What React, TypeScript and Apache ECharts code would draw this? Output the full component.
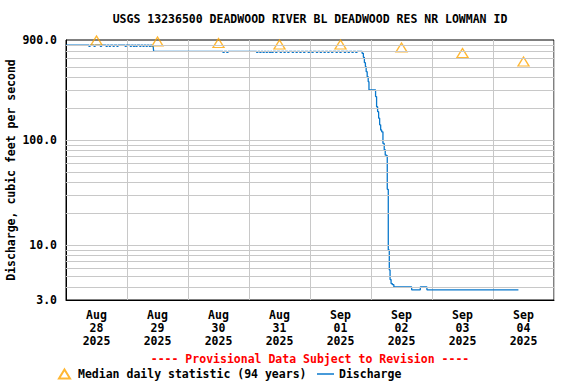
import React, { useEffect, useRef } from "react";
import * as echarts from "echarts";

const TITLE = "USGS 13236500 DEADWOOD RIVER BL DEADWOOD RES NR LOWMAN ID";
const Y_NAME = "Discharge, cubic feet per second";
const PROVISIONAL = "---- Provisional Data Subject to Revision ----";
const MEDIAN_NAME = "Median daily statistic (94 years)";
const DISCHARGE_NAME = "Discharge";

// x labels (one per day, centered on the day)
const dayLabels = [
  "Aug\n28\n2025",
  "Aug\n29\n2025",
  "Aug\n30\n2025",
  "Aug\n31\n2025",
  "Sep\n01\n2025",
  "Sep\n02\n2025",
  "Sep\n03\n2025",
  "Sep\n04\n2025",
];

// hours since 2025-08-28 00:00
const medianHours = [12, 36, 60, 84, 108, 132, 156, 180];
const medianValues = [890, 871, 843, 815, 815, 763, 677, 562];

// discharge: value holds from each hour until the next change
const dischargeHours = [
  0, 9, 9.5, 11, 11.5, 13.5, 14, 15.75, 16.25, 17, 17.5, 18.5, 19, 20, 20.5,
  23.25, 23.75, 25.25, 25.75, 26.5, 27, 27.5, 28, 29, 29.5, 30.25, 30.75,
  31.5, 32, 32.75, 33.25, 33.75, 34.25,
  34.5,
  61.75, 62.25, 63.25, 63.75, 75, 75.5, 76.25, 76.75, 77.5, 78, 78.75, 79.25,
  80, 80.5, 81, 81.5, 82.5, 83, 84.25, 84.75, 85.75, 86.25, 87.25, 87.75,
  89, 89.5, 90.5, 91, 92, 92.5, 93.5, 94, 95.25, 95.75, 96.75, 97.25,
  98.5, 99, 100, 100.5, 101.5, 102, 103, 103.5, 104.5, 105, 106.25, 106.75,
  107.75, 108.25, 109.5, 110, 111, 111.5, 112.5, 113, 114, 114.5,
  116.5, 117.0, 117.4, 117.8, 118.1, 118.5, 118.9, 119.2, 121.8, 122.2,
  122.6, 123.0, 123.4, 123.8, 124.2, 124.7, 125.2, 125.6, 126.0, 126.4,
  126.8, 127.2, 127.5, 127.9, 128.4, 129.0, 136.0, 139.4, 142.0, 178.0,
];
const dischargeValues = [
  805, 785, 805, 785, 805, 785, 805, 785, 805, 785, 805, 785, 805, 785, 805,
  785, 805, 785, 805, 785, 805, 785, 805, 785, 805, 785, 805,
  785, 805, 785, 805, 785, 805,
  700,
  685, 700, 685, 700, 685, 700, 685, 700, 685, 700, 685, 700,
  685, 700, 685, 700, 685, 700, 685, 700, 685, 700, 685, 700,
  685, 700, 685, 700, 685, 700, 685, 700, 685, 700, 685, 700,
  685, 700, 685, 700, 685, 700, 685, 700, 685, 700, 685, 700,
  685, 700, 685, 700, 685, 700, 685, 700, 685, 700,
  672, 615, 547, 501, 449, 402, 361, 301, 260, 208,
  187, 162, 140, 125, 120, 93, 81, 72, 71, 34,
  9.0, 5.8, 4.7, 4.3, 4.2, 4.0, 3.75, 4.0, 3.75, 3.75,
];

// log grid lines
const gridLineValues = [
  4, 5, 6, 7, 8, 9, 10, 20, 30, 40, 50, 60, 70, 80, 90, 100, 200, 300, 400,
  500, 600, 700, 800,
];

const FONT = "DejaVu Sans Mono";
const ORANGE = "#FFA500";
const BLUE = "#0A78CC";
const GRID_GREY = "#C8C8C8";

export default function App() {
  const ref = useRef<HTMLDivElement>(null);

  useEffect(() => {
    document.body.style.margin = "0";
    if (!ref.current) return;
    const chart = echarts.init(ref.current, null, { renderer: "svg" });
    const textBase = {
      fontFamily: FONT,
      fontWeight: "bold" as const,
      fontSize: 11.5,
      color: "#000",
    };
    chart.setOption({
      animation: false,
      backgroundColor: "#fff",
      title: [
        {
          text: TITLE,
          left: 310,
          top: 13,
          padding: 0,
          textAlign: "center",
          textStyle: { ...textBase },
        },
        {
          text: PROVISIONAL,
          left: 310,
          top: 353,
          padding: 0,
          textAlign: "center",
          textStyle: { ...textBase, color: "#FF0000" },
        },
      ],
      legend: [
        {
          data: [{ name: MEDIAN_NAME, icon: "triangle" }],
          left: 58,
          top: 368,
          itemWidth: 11,
          itemHeight: 9,
          itemGap: 0,
          padding: 0,
          selectedMode: false,
          textStyle: { ...textBase, padding: [0, 0, 0, 3] },
        },
        {
          data: [{ name: DISCHARGE_NAME, icon: "rect" }],
          left: 317,
          top: 368,
          itemWidth: 17,
          itemHeight: 1.5,
          itemGap: 0,
          padding: 0,
          selectedMode: false,
          textStyle: { ...textBase },
        },
      ],
      grid: {
        left: 66,
        right: 22,
        top: 40,
        bottom: 84,
        containLabel: false,
        outerBoundsMode: "none",
        show: true,
        borderColor: "#000",
        borderWidth: 1,
        backgroundColor: "#fff",
      },
      xAxis: [
        {
          type: "value",
          min: 0,
          max: 192,
          interval: 24,
          axisLine: { show: true, lineStyle: { color: "#000", width: 1 } },
          axisTick: { show: false },
          axisLabel: { show: false },
          splitLine: { show: true, lineStyle: { color: GRID_GREY, width: 1 } },
        },
        {
          type: "category",
          data: dayLabels,
          position: "bottom",
          boundaryGap: true,
          axisLine: { show: false },
          axisTick: { show: false },
          splitLine: { show: false },
          axisLabel: {
            ...textBase,
            margin: 9,
            lineHeight: 12.7,
            interval: 0,
          },
        },
      ],
      yAxis: {
        type: "log",
        logBase: 10,
        min: 3,
        max: 900,
        name: Y_NAME,
        nameLocation: "middle",
        nameRotate: 90,
        nameGap: 49,
        nameMoveOverlap: false,
        nameTextStyle: { ...textBase },
        axisLine: { show: true, lineStyle: { color: "#000", width: 1 } },
        axisTick: { show: false },
        splitLine: { show: false },
        minorTick: { show: false },
        axisLabel: {
          ...textBase,
          margin: 9,
          showMinLabel: true,
          showMaxLabel: true,
          formatter: (v: number) => Number(v).toFixed(1),
        },
      },
      series: [
        {
          name: "gridlines",
          type: "line",
          data: [],
          z: 1,
          silent: true,
          markLine: {
            silent: true,
            symbol: "none",
            label: { show: false },
            lineStyle: { color: GRID_GREY, width: 1, type: "solid" },
            data: gridLineValues.map((v) => ({ yAxis: v })),
          },
        },
        {
          name: DISCHARGE_NAME,
          type: "line",
          step: "end",
          showSymbol: false,
          symbol: "none",
          z: 3,
          data: dischargeHours.map((h, i) => [h, dischargeValues[i]]),
          lineStyle: { color: BLUE, width: 1.3 },
          itemStyle: { color: BLUE },
        },
        {
          name: MEDIAN_NAME,
          type: "scatter",
          symbol: "triangle",
          symbolSize: [11, 9],
          clip: false,
          z: 4,
          data: medianHours.map((h, i) => [h, medianValues[i]]),
          itemStyle: {
            color: "rgba(0,0,0,0)",
            borderColor: ORANGE,
            borderWidth: 1.3,
          },
        },
      ],
    });
    return () => chart.dispose();
  }, []);

  return <div ref={ref} style={{ width: 576, height: 384 }} />;
}
